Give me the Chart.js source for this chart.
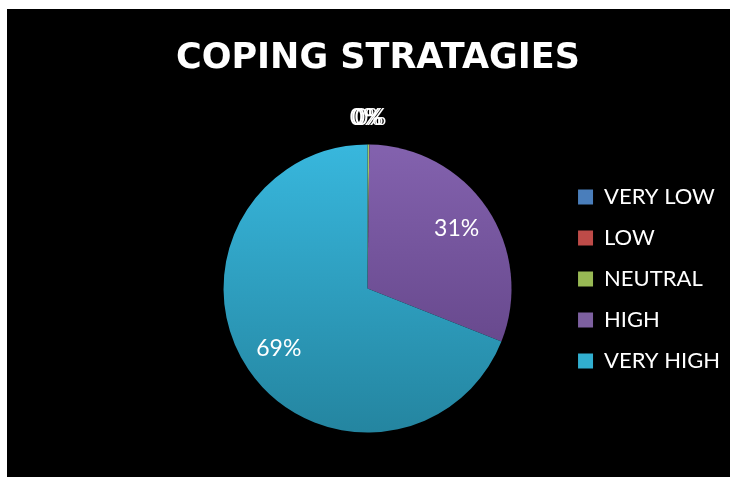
<!DOCTYPE html>
<html>
<head>
<title>Coping Strategies</title>
<script src="https://cdn.jsdelivr.net/npm/chart.js@4.4.1/dist/chart.umd.min.js"></script>
<style>
    body { margin: 0; background: #fff; }
    #wrap { position: absolute; left: 7px; top: 9px; width: 723px; height: 468px; background: #000; }
</style>
</head>
<body>
<div id="wrap"><canvas id="coping-chart"></canvas></div>

<script>
    // survey shares (%) per response level
    var categories = ['VERY LOW', 'LOW', 'NEUTRAL', 'HIGH', 'VERY HIGH'];
    var percentages = [0, 0, 0.2, 30.8, 69];

    // slice shading runs from a light top to a darker bottom
    var topColors = ['#5489c9', '#cd5653', '#a5c862', '#8362ae', '#38b7dd'];
    var bottomColors = ['#3b689e', '#9c3c3a', '#7c9a42', '#5c3e7f', '#2485a0'];
    var legendColors = ['#4a7ebb', '#be4b48', '#98b954', '#7d60a0', '#31afd0'];

    var PIE_RADIUS = 144;

    function sliceFill(context) {
        var chart = context.chart;
        var i = context.dataIndex;
        var area = chart.chartArea;
        if (!area) return topColors[i];
        var cy = (area.top + area.bottom) / 2;
        var g = chart.ctx.createLinearGradient(0, cy - PIE_RADIUS, 0, cy + PIE_RADIUS);
        g.addColorStop(0, topColors[i]);
        g.addColorStop(1, bottomColors[i]);
        return g;
    }

    // percent labels: inside big slices, above the pie for empty ones
    var percentLabels = {
        id: 'percentLabels',
        afterDatasetsDraw: function(chart) {
            var ctx = chart.ctx;
            var meta = chart.getDatasetMeta(0);
            var data = chart.data.datasets[0].data;
            var total = data.reduce(function(a, b) { return a + b; }, 0);
            var nudge = -2;
            ctx.save();
            ctx.font = '23px Lato';
            ctx.fillStyle = '#fff';
            ctx.textAlign = 'center';
            ctx.textBaseline = 'middle';
            meta.data.forEach(function(arc, i) {
                var p = arc.getProps(['x', 'y', 'startAngle', 'endAngle', 'outerRadius'], true);
                var mid = (p.startAngle + p.endAngle) / 2;
                var share = data[i] / total * 100;
                var r, dx = 0;
                if (share < 1) {
                    r = p.outerRadius + 27;
                    dx = nudge;
                    nudge += 2;
                } else {
                    r = p.outerRadius * 0.745;
                }
                ctx.fillText(Math.round(share) + '%', p.x + Math.cos(mid) * r + dx, p.y + Math.sin(mid) * r);
            });
            ctx.restore();
        }
    };

    Chart.defaults.font.family = 'Lato, "Open Sans", sans-serif';

    var ctx = document.getElementById('coping-chart').getContext('2d');
    var copingChart = new Chart(ctx, {
        type: 'pie',
        data: {
            labels: categories,
            datasets: [{
                data: percentages,
                backgroundColor: sliceFill,
                borderWidth: 0,
                radius: PIE_RADIUS,
                clip: false
            }]
        },
        options: {
            responsive: true,
            maintainAspectRatio: false,
            animation: false,
            layout: {
                padding: { left: 169, right: 0, top: 0, bottom: 67 }
            },
            plugins: {
                title: {
                    display: true,
                    text: 'COPING STRATAGIES',
                    align: 'start',
                    color: '#fff',
                    font: { family: '"DejaVu Sans", sans-serif', size: 35, weight: 'bold' },
                    padding: { top: 29, bottom: 87 }
                },
                legend: {
                    position: 'right',
                    align: 'start',
                    fullSize: false,
                    labels: {
                        color: '#fff',
                        font: { size: 22 },
                        boxWidth: 15,
                        boxHeight: 15,
                        padding: 19,
                        generateLabels: function(chart) {
                            return chart.data.labels.map(function(label, i) {
                                return {
                                    text: label,
                                    fillStyle: legendColors[i],
                                    strokeStyle: legendColors[i],
                                    lineWidth: 0,
                                    fontColor: '#fff',
                                    index: i
                                };
                            });
                        }
                    }
                },
                tooltip: { enabled: false }
            }
        },
        plugins: [percentLabels]
    });
</script>
</body>
</html>
